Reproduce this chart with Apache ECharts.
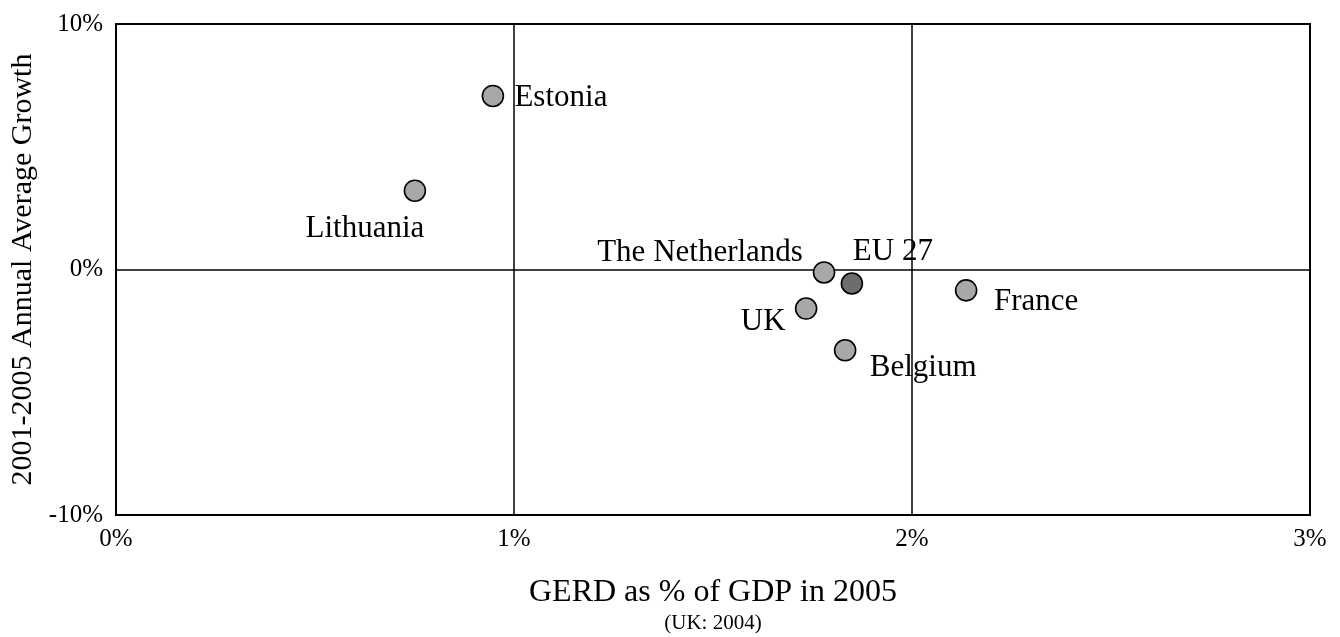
<!DOCTYPE html>
<html>
<head>
<meta charset="utf-8">
<script src="https://cdn.jsdelivr.net/npm/echarts@6/dist/echarts.min.js"></script>
<style>
  html, body { margin: 0; padding: 0; background: #fff; }
  #scatter { width: 1340px; height: 637px; }
</style>
</head>
<body>
<div id="scatter"></div>
<script>
// GERD vs. annual growth
var countries = ['Estonia', 'Lithuania', 'The Netherlands', 'EU 27', 'France', 'UK', 'Belgium'];
var gerd = [0.947, 0.751, 1.779, 1.849, 2.136, 1.734, 1.832];     // % of GDP in 2005
var growth = [7.07, 3.21, -0.12, -0.57, -0.85, -1.59, -3.29];     // 2001-2005 avg growth, %
var xTicks = [0, 1, 2, 3];
var yTicks = [-10, 0, 10];

// label placement relative to the dot (style only)
var labelOffsets = [[68, 2], [-50, 38], [-124, -20], [41, -32], [70, 11], [-43, 13], [78, 18]];

(function () {
    var dom = document.getElementById('scatter');
    var chart = echarts.init(dom);
    var serif = "'Times New Roman', 'Liberation Serif', serif";

    var points = [];
    for (var i = 0; i < countries.length; i++) {
        points.push({
            name: countries[i],
            value: [gerd[i], growth[i]],
            itemStyle: {
                color: countries[i] === 'EU 27' ? '#6d6d6f' : '#a8a8aa'
            },
            label: {
                offset: labelOffsets[i]
            }
        });
    }

    var option = {
        backgroundColor: '#fff',
        animation: false,
        grid: {
            left: 116,
            right: 30,
            top: 24,
            bottom: 122,
            outerBoundsMode: 'none',
            containLabel: false,
            show: true,
            borderColor: '#000',
            borderWidth: 2,
            backgroundColor: 'transparent'
        },
        xAxis: {
            type: 'value',
            min: xTicks[0],
            max: xTicks[xTicks.length - 1],
            interval: 1,
            name: '{a|GERD as % of GDP in 2005}\n{b|(UK: 2004)}',
            nameLocation: 'middle',
            nameGap: 60,
            nameTextStyle: {
                color: '#000',
                fontFamily: serif,
                rich: {
                    a: { fontSize: 32, lineHeight: 35, fontFamily: serif, color: '#000' },
                    b: { fontSize: 21, lineHeight: 26, fontFamily: serif, color: '#000' }
                }
            },
            axisLine: { show: false },
            axisTick: { show: false },
            axisLabel: {
                margin: 12,
                color: '#000',
                fontFamily: serif,
                fontSize: 25,
                formatter: function (v) { return v + '%'; }
            },
            splitLine: {
                show: true,
                lineStyle: { color: '#000', width: 1.5 }
            }
        },
        yAxis: {
            type: 'value',
            min: yTicks[0],
            max: yTicks[yTicks.length - 1],
            interval: 10,
            name: '2001-2005 Annual Average Growth',
            nameLocation: 'middle',
            nameRotate: 90,
            nameGap: 76,
            nameTextStyle: {
                color: '#000',
                fontFamily: serif,
                fontSize: 30
            },
            axisLine: { show: false },
            axisTick: { show: false },
            axisLabel: {
                margin: 13,
                color: '#000',
                fontFamily: serif,
                fontSize: 25,
                formatter: function (v) { return v + '%'; }
            },
            splitLine: {
                show: true,
                lineStyle: { color: '#000', width: 1.5 }
            }
        },
        series: [{
            type: 'scatter',
            symbol: 'circle',
            symbolSize: 21,
            itemStyle: {
                borderColor: '#000',
                borderWidth: 1.6,
                opacity: 1
            },
            label: {
                show: true,
                position: 'inside',
                formatter: '{b}',
                color: '#000',
                fontFamily: serif,
                fontSize: 31
            },
            data: points,
            z: 5
        }]
    };

    chart.setOption(option);
})();
</script>
</body>
</html>
